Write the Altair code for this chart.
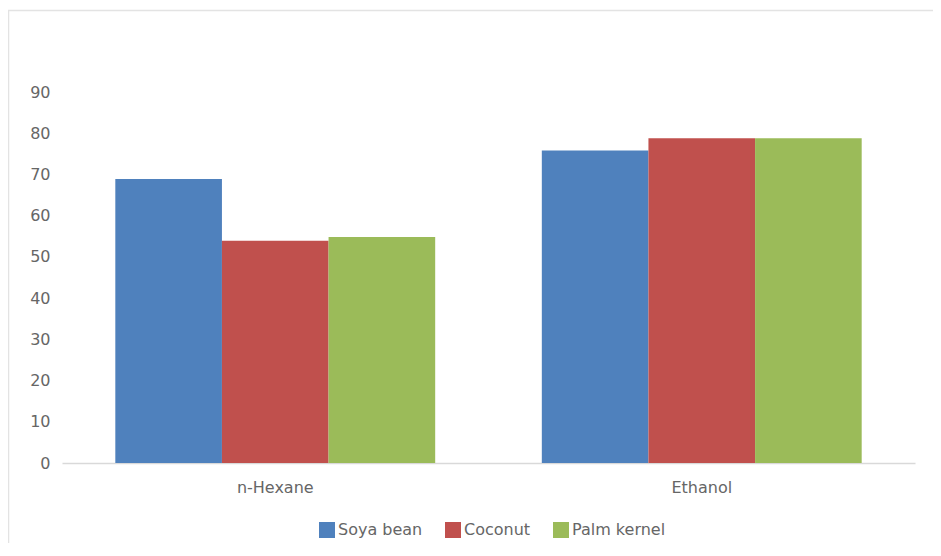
import altair as alt
import pandas as pd

solvents = ["n-Hexane", "Ethanol"]
series = ["Soya bean", "Coconut", "Palm kernel"]
soya = [68.9, 75.8]
coconut = [53.9, 78.8]
palm = [54.8, 78.8]
colors = ["#4F81BD", "#C0504D", "#9BBB59"]

rows = []
for i, s in enumerate(solvents):
    for name, vals in zip(series, [soya, coconut, palm]):
        rows.append({"solvent": s, "oil": name, "value": vals[i]})
df = pd.DataFrame(rows)

font = "DejaVu Sans"
fs = 16
txt = "#666666"
bars = alt.Chart(df).mark_bar().encode(
    x=alt.X("solvent:N", sort=solvents, title=None,
            scale=alt.Scale(paddingInner=0.25, paddingOuter=0.125),
            axis=alt.Axis(labelAngle=0, ticks=False, domainColor="#d9d9d9",
                          domainWidth=1.5, labelPadding=16, labelFontSize=fs,
                          labelColor=txt, labelFont=font)),
    xOffset=alt.XOffset("oil:N", sort=series),
    y=alt.Y("value:Q", title=None,
            scale=alt.Scale(domain=[0, 90]),
            axis=alt.Axis(values=list(range(0, 91, 10)), grid=False, domain=False,
                          ticks=False, labelPadding=12, labelFontSize=fs,
                          labelColor=txt, labelFont=font)),
    color=alt.Color("oil:N", sort=series,
                    scale=alt.Scale(domain=series, range=colors),
                    legend=alt.Legend(title=None, orient="none", direction="horizontal",
                                      legendX=257, legendY=430, symbolType="square",
                                      symbolSize=256, symbolStrokeWidth=0,
                                      labelFontSize=fs, labelColor=txt,
                                      labelFont=font, columnPadding=22, labelOffset=3)),
)

frame_df = pd.DataFrame({"k": [0]})
left_line = alt.Chart(frame_df).mark_rule(color="#e3e3e3", strokeWidth=1.5).encode(
    x=alt.value(-53.5), y=alt.value(-81.5), y2=alt.value(470)
)
top_line = alt.Chart(frame_df).mark_rule(color="#e3e3e3", strokeWidth=1.5).encode(
    x=alt.value(-54), x2=alt.value(871), y=alt.value(-81.5)
)

chart = alt.layer(left_line, top_line, bars).properties(
    width=853, height=371,
    autosize=alt.AutoSizeParams(type="none"),
    padding={"left": 54, "top": 84, "right": 18, "bottom": 80},
).configure(background="white").configure_view(strokeWidth=0, stroke="transparent")

chart.save("out.html", embed_options={"renderer": "svg", "actions": False})
